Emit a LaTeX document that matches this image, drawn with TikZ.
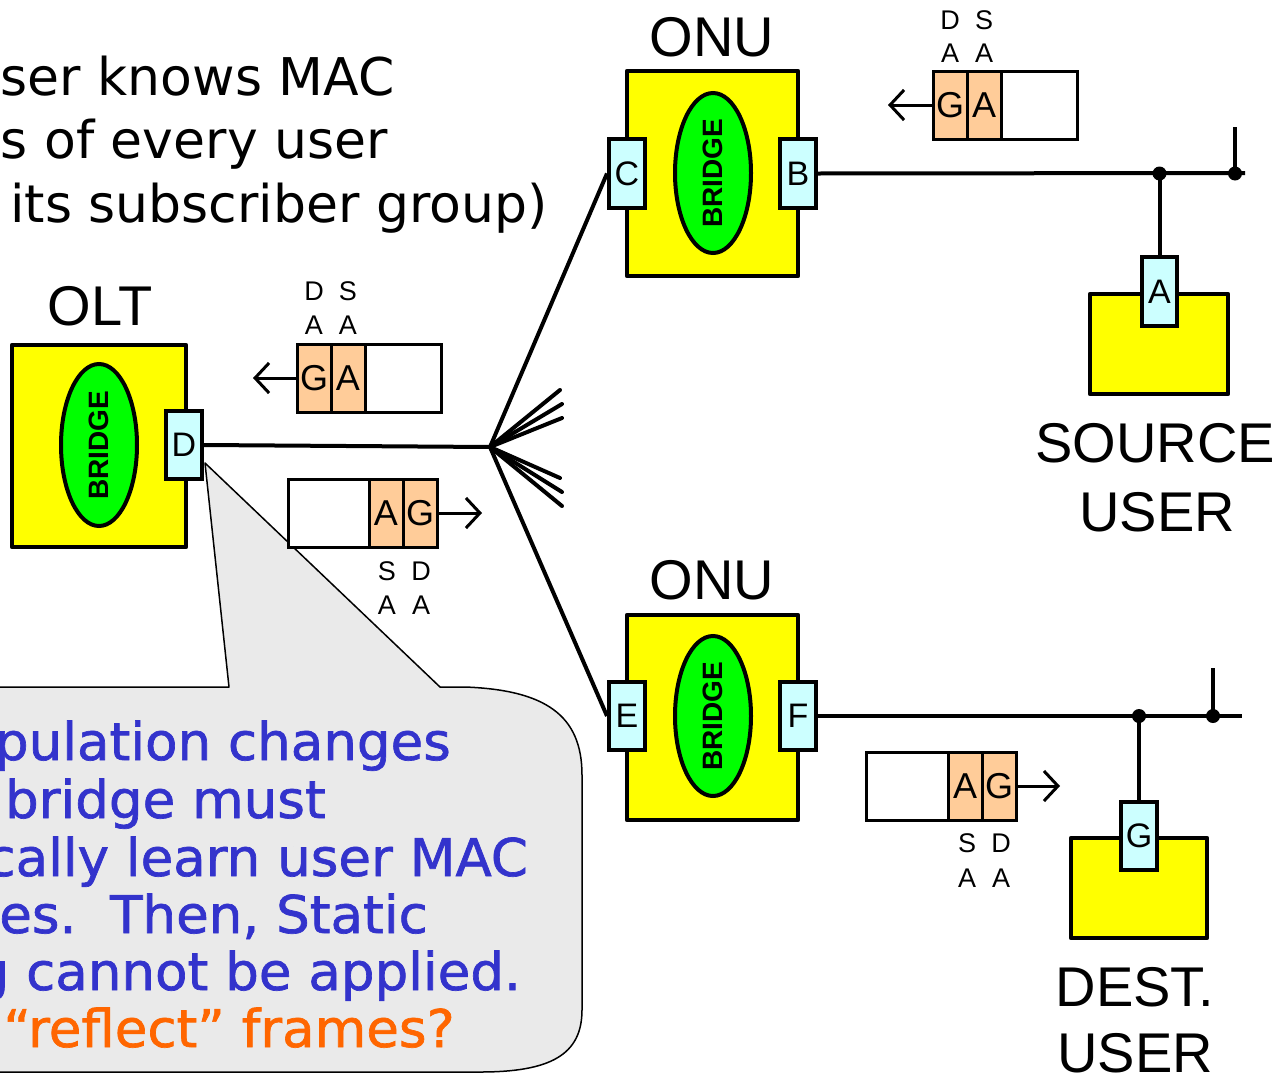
\documentclass[tikz,border=0pt]{standalone}
\usepackage{fontspec}
\setmainfont{Liberation Sans}
\newfontfamily\verd{DejaVu Sans}
\newfontfamily\verdb{DejaVu Sans}[FakeBold=1.3, FakeStretch=1.02]
\usetikzlibrary{arrows.meta,shapes.geometric}
\definecolor{ylw}{HTML}{FFFF00}
\definecolor{grn}{HTML}{00FF00}
\definecolor{prt}{HTML}{CCFFFF}
\definecolor{pch}{HTML}{FFCC99}
\definecolor{cgray}{HTML}{EAEAEA}
\definecolor{tblue}{HTML}{3333CC}
\definecolor{torange}{HTML}{FF6600}
\begin{document}
\begin{tikzpicture}[x=1pt,y=-1pt,
  ubox/.style={draw, fill=ylw, line width=4.5pt, inner sep=0pt, line join=round},
  port/.style={draw, fill=prt, line width=4pt, inner sep=0pt, minimum width=36pt, minimum height=68pt, font=\fontsize{34}{34}\selectfont},
  brg/.style={ellipse, draw, fill=grn, line width=4pt, minimum width=76pt, minimum height=162pt, inner sep=0pt},
  brtext/.style={rotate=90, inner sep=0pt, font=\bfseries\fontsize{28}{28}\selectfont},
  cell/.style={draw, line width=3pt, inner sep=0pt, minimum height=68pt, font=\fontsize{36}{36}\selectfont},
  pcell/.style={cell, fill=pch, minimum width=34pt},
  wcell/.style={cell, fill=white},
  lbl/.style={inner sep=0pt, font=\fontsize{27}{27}\selectfont},
  big/.style={inner sep=0pt, font=\fontsize{56}{56}\selectfont},
  note/.style={inner sep=0pt, anchor=base west, font=\verd\fontsize{52}{52}\selectfont},
  cnote/.style={inner sep=0pt, anchor=base east, text=tblue, font=\verdb\fontsize{52}{52}\selectfont},
  wire/.style={line width=4pt},
  farrow/.style={line width=3pt, -{Straight Barb[length=14pt,width=30pt]}},
  jdot/.style={circle, fill, inner sep=0pt, minimum size=14pt},
  callout/.style={draw, fill=cgray, line width=1.5pt, line join=round}]
\useasboundingbox (0,0) rectangle (1280,1079);
\fill[white] (0,0) rectangle (1280,1079);
\clip (0,0) rectangle (1280,1079);

% top text
\node[note] (t1) at (0.5,95) {ser knows MAC};
\node[note] (t2) at (0.5,158) {s of every user};
\node[note] (t3) at (10,222) {its subscriber group)};

% callout
\path[callout] (205,463) -- (440,687) -- (465,687)
  .. controls (545,690) and (582,715) .. (582,775) -- (582,1010)
  .. controls (582,1055) and (550,1072) .. (480,1072) -- (-10,1072) -- (-10,687)
  -- (229,687) -- cycle;
\node[cnote] (c1) at (451,760) {pulation changes};
\node[cnote] (c2) at (326,818) {bridge must};
\node[cnote] (c3) at (528,876) {cally learn user MAC};
\node[cnote] (c4) at (428,933) {es.\ \ Then, Static};
\node[cnote] (c5) at (521,990) {g cannot be applied.};
\node[cnote, text=torange] (c6) at (455,1047) {“reflect” frames?};

% OLT
\node[ubox, minimum width=174pt, minimum height=202pt] (olt) at (99,446) {};
\node[brg] (bro) at (99,445) {};
\node[brtext] (brot) at (bro) {BRIDGE};
\node[big] (oltl) at (100,306) {OLT};

% ONU 1
\node[ubox, minimum width=171pt, minimum height=205pt] (onu1) at (712.5,173.5) {};
\node[brg, minimum height=160pt] (br1) at (713,173) {};
\node[brtext] (br1t) at (br1) {BRIDGE};
\node[big] (onu1l) at (712,37) {ONU};

% ONU 2
\node[ubox, minimum width=171pt, minimum height=205pt] (onu2) at (712.5,717.5) {};
\node[brg, minimum height=160pt] (br2) at (713,716) {};
\node[brtext] (br2t) at (br2) {BRIDGE};
\node[big] (onu2l) at (712,580) {ONU};

% users
\node[ubox, minimum width=138pt, minimum height=100pt] (src) at (1159,344) {};
\node[ubox, minimum width=136pt, minimum height=100pt] (dst) at (1139,888) {};
\node[big] (srcl1) at (1155,443) {SOURCE};
\node[big] (srcl2) at (1157,512) {USER};
\node[big] (dstl1) at (1135,987) {DEST.};
\node[big] (dstl2) at (1135,1053) {USER};

% splitter and wires
\coordinate (sp) at (490,447);
\coordinate (f1) at (560,390);
\coordinate (f2) at (562,404);
\coordinate (f3) at (562,418);
\coordinate (f4) at (560,478);
\coordinate (f5) at (562,492);
\coordinate (f6) at (562,506);
\coordinate (bus1e) at (1245,173);
\coordinate (bus2e) at (1242,716);
\coordinate (tk1) at (1235,127);
\coordinate (tk2) at (1213,668);

% ports
\node[port] (portD) at (184,445) {D};
\node[port, minimum height=69pt] (portC) at (627,173.5) {C};
\node[port, minimum height=69pt] (portB) at (798,173.5) {B};
\node[port] (portE) at (627,716) {E};
\node[port] (portF) at (798,716) {F};
\node[port, minimum width=35pt, minimum height=69pt] (portA) at (1159.5,291.5) {A};
\node[port] (portG) at (1139,836) {G};

\draw[wire] (portD.east) -- (sp);
\draw[wire, line join=round] (portC.west) -- (sp) -- (portE.west);
\foreach \f in {f1,f2,f3,f4,f5,f6} \draw[wire, line cap=round] (sp) -- (\f);

\coordinate (j1) at (portA.north |- portB.east);
\coordinate (b1) at (tk1 |- portB.east);
\coordinate (j2) at (portG.north |- portF.east);
\coordinate (b2) at (tk2 |- portF.east);
\draw[wire] (portB.east) -- (bus1e);
\draw[wire] (j1) -- (portA.north);
\draw[wire] (tk1) -- (b1);
\draw[wire] (portF.east) -- (bus2e);
\draw[wire] (j2) -- (portG.north);
\draw[wire] (tk2) -- (b2);
\node[jdot] (d1) at (j1) {};
\node[jdot] (d2) at (b1) {};
\node[jdot] (d3) at (j2) {};
\node[jdot] (d4) at (b2) {};

% frame 1 (ONU1, leftward)
\node[pcell] (f1g) at (950,105) {G};
\node[pcell] (f1a) at (984,105) {A};
\node[wcell, minimum width=76pt] (f1w) at (1039,105) {};
\coordinate (a1) at (888,105);
\draw[farrow] (f1g.west) -- (a1);
\node[lbl] (f1l1) at (950,20) {D};
\node[lbl] (f1l2) at (984,20) {S};
\node[lbl] (f1l3) at (950,53) {A};
\node[lbl] (f1l4) at (984,53) {A};

% frame 2 (OLT, leftward)
\node[pcell] (f2g) at (314,378) {G};
\node[pcell] (f2a) at (348,378) {A};
\node[wcell, minimum width=76pt] (f2w) at (403,378) {};
\coordinate (a2) at (253,378);
\draw[farrow] (f2g.west) -- (a2);
\node[lbl] (f2l1) at (314,291) {D};
\node[lbl] (f2l2) at (348,291) {S};
\node[lbl] (f2l3) at (314,325) {A};
\node[lbl] (f2l4) at (348,325) {A};

% frame 3 (OLT, rightward)
\node[wcell, minimum width=81pt] (f3w) at (328.5,513) {};
\node[pcell] (f3a) at (386,513) {A};
\node[pcell] (f3g) at (420,513) {G};
\coordinate (a3) at (482,513);
\draw[farrow] (f3g.east) -- (a3);
\node[lbl] (f3l1) at (387,571) {S};
\node[lbl] (f3l2) at (421,571) {D};
\node[lbl] (f3l3) at (387,605) {A};
\node[lbl] (f3l4) at (421,605) {A};

% frame 4 (ONU2, rightward)
\node[wcell, minimum width=82pt] (f4w) at (907,786) {};
\node[pcell] (f4a) at (965,786) {A};
\node[pcell] (f4g) at (999,786) {G};
\coordinate (a4) at (1060,786);
\draw[farrow] (f4g.east) -- (a4);
\node[lbl] (f4l1) at (967,843) {S};
\node[lbl] (f4l2) at (1001,843) {D};
\node[lbl] (f4l3) at (967,878) {A};
\node[lbl] (f4l4) at (1001,878) {A};
\end{tikzpicture}
\end{document}
